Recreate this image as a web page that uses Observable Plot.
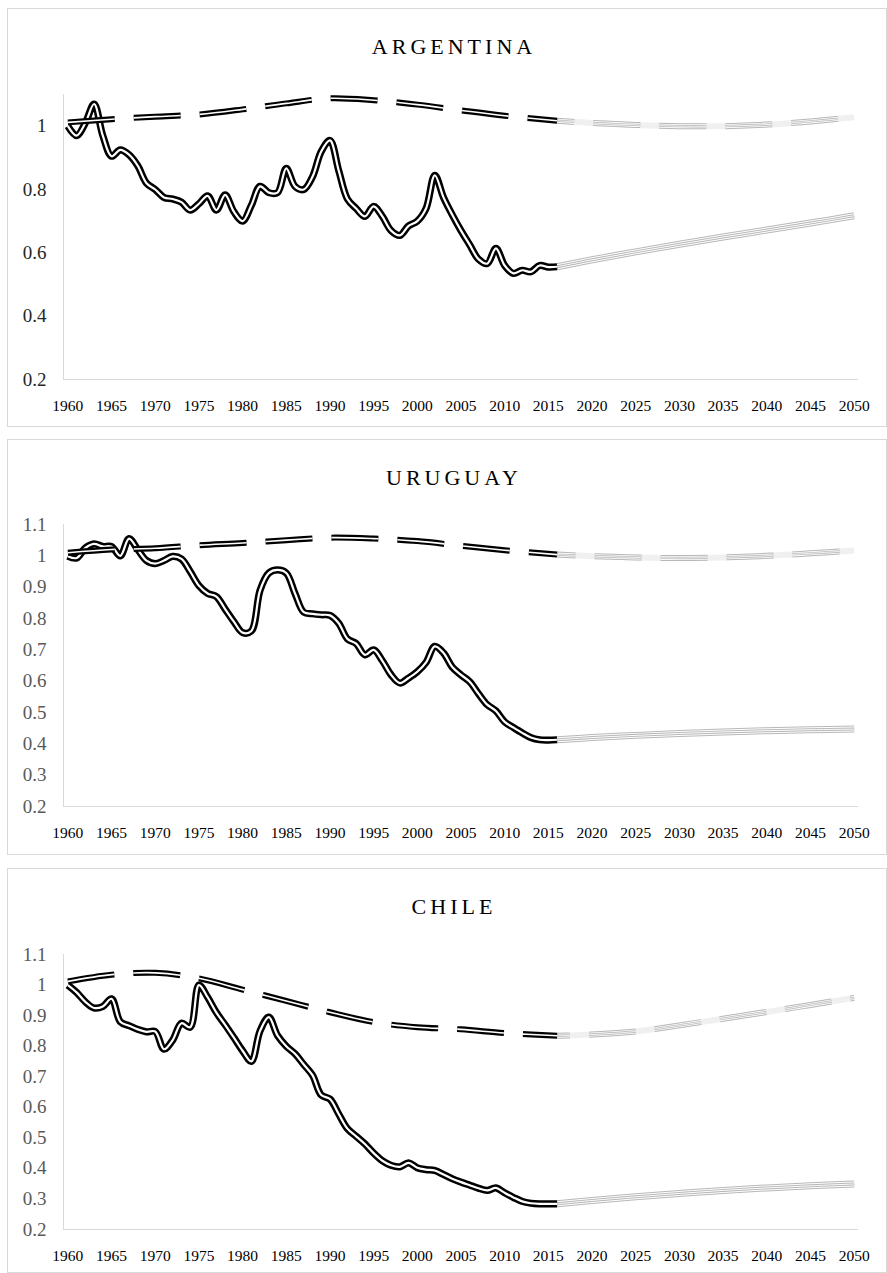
<!DOCTYPE html>
<html><head><meta charset="utf-8">
<script src="https://cdn.jsdelivr.net/npm/d3@7"></script>
<script src="https://cdn.jsdelivr.net/npm/@observablehq/plot@0.6"></script>
<style>
html,body{margin:0;padding:0;background:#fff;}
body{width:887px;height:1273px;position:relative;overflow:hidden;font-family:"Liberation Serif",serif;}
.box{position:absolute;left:7px;width:880px;border:1px solid #d9d9d9;box-sizing:border-box;background:transparent;z-index:5;pointer-events:none;}
.title{position:absolute;transform:translateX(-50%);font-size:22px;letter-spacing:4px;color:#000;white-space:nowrap;line-height:22px;font-family:"Liberation Serif",serif;z-index:6;}
</style></head><body>
<script>
// ---------- data ----------
const histYears = d3.range(1960, 2017);
const projYears = [2016, 2020, 2025, 2030, 2035, 2040, 2045, 2050];
const dashYears = [1960, 1965, 1970, 1975, 1980, 1985, 1990, 1995, 2000, 2005, 2010, 2016];
const xTicks = [1960,1965,1970,1975,1980,1985,1990,1995,2000,2005,2010,2015,2020,2025,2030,2035,2040,2045,2050];
const yTicksArg = [0.2, 0.4, 0.6, 0.8, 1];
const yTicksFine = [0.2, 0.3, 0.4, 0.5, 0.6, 0.7, 0.8, 0.9, 1, 1.1];
const titles = ["ARGENTINA", "URUGUAY", "CHILE"];

const argSolid = [1.0,0.97,1.01,1.07,0.97,0.905,0.925,0.91,0.875,0.82,0.80,0.775,0.77,0.76,0.735,0.755,0.78,0.735,0.783,0.73,
  0.70,0.75,0.81,0.79,0.79,0.867,0.81,0.80,0.84,0.92,0.955,0.86,0.77,0.74,0.715,0.747,0.715,0.67,0.655,0.685,
  0.70,0.74,0.845,0.775,0.72,0.67,0.625,0.58,0.566,0.614,0.56,0.535,0.545,0.54,0.56,0.555,0.556];
const argSolidProj = [0.556, 0.578, 0.603, 0.627, 0.65, 0.672, 0.694, 0.717];
const argDash = [1.012, 1.022, 1.03, 1.037, 1.053, 1.072, 1.088, 1.082, 1.068, 1.05, 1.033, 1.017];
const argDashProj = [1.017, 1.01, 1.004, 1.0, 1.0, 1.005, 1.015, 1.028];

const uruSolid = [0.999,0.993,1.025,1.038,1.03,1.03,1.0,1.055,1.02,0.985,0.975,0.985,0.998,0.99,0.95,0.905,0.88,0.87,0.83,0.79,
  0.755,0.76,0.89,0.945,0.955,0.945,0.88,0.82,0.815,0.812,0.81,0.785,0.735,0.72,0.684,0.70,0.665,0.62,0.594,0.61,
  0.63,0.66,0.711,0.69,0.645,0.62,0.598,0.56,0.525,0.505,0.47,0.452,0.435,0.42,0.413,0.412,0.413];
const uruSolidProj = [0.413, 0.42, 0.427, 0.433, 0.438, 0.442, 0.445, 0.447];
const uruDash = [1.01, 1.02, 1.024, 1.034, 1.041, 1.05, 1.058, 1.055, 1.047, 1.032, 1.018, 1.004];
const uruDashProj = [1.004, 0.999, 0.995, 0.993, 0.995, 1.0, 1.008, 1.017];

const chiSolid = [1.0,0.976,0.945,0.925,0.93,0.955,0.88,0.867,0.855,0.847,0.848,0.79,0.82,0.875,0.862,1.0,0.96,0.91,0.87,0.828,
  0.785,0.75,0.85,0.895,0.835,0.80,0.775,0.74,0.705,0.64,0.627,0.578,0.53,0.505,0.48,0.45,0.425,0.41,0.405,0.418,
  0.402,0.396,0.393,0.38,0.366,0.355,0.345,0.335,0.328,0.336,0.32,0.305,0.292,0.286,0.284,0.284,0.284];
const chiSolidProj = [0.284, 0.295, 0.307, 0.318, 0.328, 0.336, 0.343, 0.349];
const chiDash = [1.012, 1.034, 1.04, 1.022, 0.985, 0.948, 0.911, 0.879, 0.862, 0.855, 0.843, 0.834];
const chiDashProj = [0.834, 0.838, 0.848, 0.868, 0.89, 0.912, 0.935, 0.958];

// ---------- layout ----------
const panels = [
  {title: titles[0], solid: argSolid, solidProj: argSolidProj, dash: argDash, dashProj: argDashProj,
   yTicks: yTicksArg, labelColor: "#262626", boxTop: 8, boxH: 419, top: 8, height: 418, mt: 86, mb: 47},
  {title: titles[1], solid: uruSolid, solidProj: uruSolidProj, dash: uruDash, dashProj: uruDashProj,
   yTicks: yTicksFine, labelColor: "#595959", boxTop: 439, boxH: 416, top: 439, height: 415, mt: 85, mb: 48},
  {title: titles[2], solid: chiSolid, solidProj: chiSolidProj, dash: chiDash, dashProj: chiDashProj,
   yTicks: yTicksFine, labelColor: "#595959", boxTop: 868, boxH: 405, top: 868, height: 405, mt: 86, mb: 44}
];

const DASH = "47,19";
const curve = "catmull-rom";
const FONT = "Liberation Serif";

panels.forEach(p => {
  const hist = histYears.map((year, i) => ({year, v: p.solid[i]}));
  const sp = projYears.map((year, i) => ({year, v: p.solidProj[i]}));
  const dh = dashYears.map((year, i) => ({year, v: p.dash[i]}));
  const dp = projYears.map((year, i) => ({year, v: p.dashProj[i]}));
  const L = (data, o) => Plot.line(data, {x: "year", y: "v", curve, strokeLinecap: "butt", strokeLinejoin: "round", ...o});

  const svg = Plot.plot({
    width: 887, height: p.height,
    marginLeft: 63, marginRight: 29, marginTop: p.mt, marginBottom: p.mb,
    style: {fontFamily: FONT, background: "transparent", overflow: "visible"},
    x: {type: "linear", domain: [1959.5, 2050.5]},
    y: {type: "linear", domain: [0.2, 1.1]},
    marks: [
      Plot.ruleY([0.2], {stroke: "#d9d9d9", strokeWidth: 1}),
      Plot.ruleX([1959.5], {stroke: "#d9d9d9", strokeWidth: 1}),
      Plot.axisY(p.yTicks, {tickSize: 0, tickPadding: 17, fontSize: 19, fill: p.labelColor, tickFormat: d => String(d), label: null}),
      Plot.axisX(xTicks, {tickSize: 0, tickPadding: 20, fontSize: 15.5, fill: "#000", tickFormat: d => String(d), label: null}),
      // solid projection (grey striped band)
      L(sp, {stroke: "#b8b8b8", strokeWidth: 7}),
      L(sp, {stroke: "white", strokeWidth: 5}),
      L(sp, {stroke: "#b8b8b8", strokeWidth: 3}),
      L(sp, {stroke: "white", strokeWidth: 1}),
      // solid historical (double black line)
      L(hist, {stroke: "black", strokeWidth: 7.2}),
      L(hist, {stroke: "white", strokeWidth: 2.2}),
      // dashed projection (grey striped dashes over faint band)
      L(dp, {stroke: "#f0f0f0", strokeWidth: 6}),
      L(dp, {stroke: "#b8b8b8", strokeWidth: 6, strokeDasharray: DASH, ariaDescription: "pd"}),
      L(dp, {stroke: "white", strokeWidth: 4, strokeDasharray: DASH, ariaDescription: "pd"}),
      L(dp, {stroke: "#b8b8b8", strokeWidth: 2.4, strokeDasharray: DASH, ariaDescription: "pd"}),
      L(dp, {stroke: "white", strokeWidth: 0.8, strokeDasharray: DASH, ariaDescription: "pd"}),
      // dashed historical (double black dashes)
      L(dh, {stroke: "black", strokeWidth: 6, strokeDasharray: DASH, ariaDescription: "hd"}),
      L(dh, {stroke: "white", strokeWidth: 1.6, strokeDasharray: DASH})
    ]
  });
  svg.style.position = "absolute";
  svg.style.left = "0px";
  svg.style.top = p.top + "px";
  svg.style.background = "transparent";
  document.body.appendChild(svg);

  // force the serif font on every axis label
  svg.querySelectorAll("g, text").forEach(el => {
    if (el.hasAttribute("font-family")) el.setAttribute("font-family", FONT);
  });
  svg.querySelectorAll("text").forEach(el => {
    el.setAttribute("font-family", FONT);
    el.style.fontFamily = "'Liberation Serif', serif";
  });

  // continue the dash pattern of the historical line into the projection
  const hp = svg.querySelector('g[aria-description="hd"] path');
  if (hp) {
    const len = hp.getTotalLength();
    svg.querySelectorAll('g[aria-description="pd"]').forEach(g => {
      g.setAttribute("stroke-dashoffset", len);
      g.querySelectorAll("path").forEach(pa => pa.setAttribute("stroke-dashoffset", len));
    });
  }

  const box = document.createElement("div");
  box.className = "box";
  box.style.top = p.boxTop + "px";
  box.style.height = p.boxH + "px";
  document.body.appendChild(box);

  const t = document.createElement("div");
  t.className = "title";
  t.textContent = p.title;
  t.style.left = "454px";
  t.style.top = (p.boxTop + 28) + "px";
  document.body.appendChild(t);
});
</script>
</body></html>
